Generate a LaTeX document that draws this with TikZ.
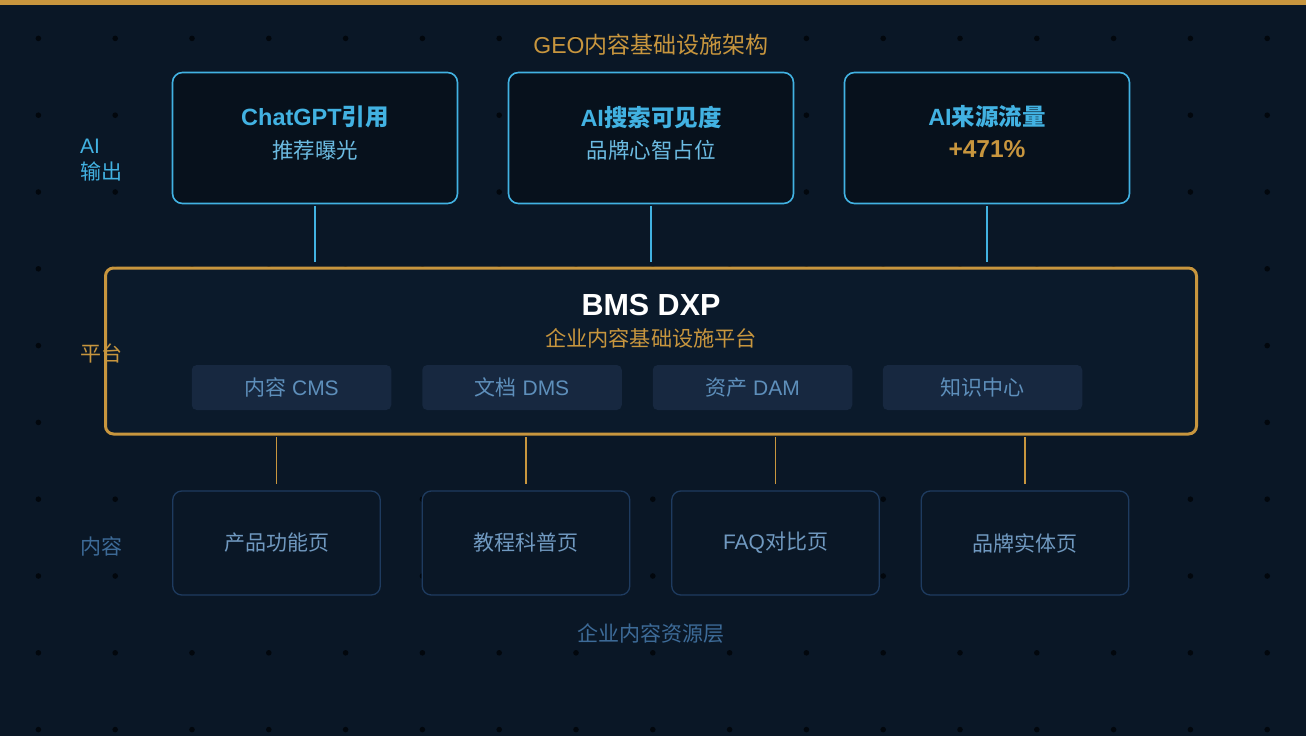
\documentclass[tikz,border=0pt]{standalone}
\usepackage{fontspec}
\setmainfont{Liberation Sans}
\newfontfamily\cjk{Noto Sans CJK SC}
\newcommand\zh[1]{{\cjk #1}}
\newcommand\fs[1]{\fontsize{#1}{#1}\selectfont}
\definecolor{bg}{HTML}{0A1726}
\definecolor{gold}{HTML}{C8963E}
\definecolor{sky}{HTML}{42B2E2}
\definecolor{skylt}{HTML}{6CBBE2}
\definecolor{topfill}{HTML}{07111C}
\definecolor{platfill}{HTML}{0B1A2B}
\definecolor{subfill}{HTML}{172840}
\definecolor{subtxt}{HTML}{5E8FBB}
\definecolor{botline}{HTML}{1E3B5F}
\definecolor{bottxt}{HTML}{7099C0}
\definecolor{dimblue}{HTML}{3D6B98}
\definecolor{dotc}{HTML}{02070D}
\begin{document}
\begin{tikzpicture}[x=1pt,y=-1pt,
  topbox/.style={draw=sky,line width=1.6pt,fill=topfill,rounded corners=10pt,minimum width=285pt,minimum height=131pt,inner sep=0pt,align=center},
  platbox/.style={draw=gold,line width=3pt,fill=platfill,rounded corners=8pt,minimum width=1091pt,minimum height=166pt,inner sep=0pt},
  subbox/.style={fill=subfill,rounded corners=5pt,minimum width=199.5pt,minimum height=45pt,inner sep=0pt,text=subtxt,font=\fs{21}},
  botbox/.style={draw=botline,line width=1.3pt,fill=bg,rounded corners=9pt,minimum width=207.5pt,minimum height=104pt,inner sep=0pt,text=bottxt,font=\fs{21}},
  bluelink/.style={draw=sky,line width=1.5pt},
  goldlink/.style={draw=gold,line width=1.5pt},
  lbl/.style={anchor=west,inner sep=0pt,font=\fontsize{21}{26}\selectfont,align=left},
  head/.style={font=\fs{23.5}\bfseries,inner sep=0pt}
]
\useasboundingbox (0,0) rectangle (1306,736);
\fill[bg] (0,0) rectangle (1306,736);
\fill[gold] (0,0) rectangle (1306,5);
% dot grid
\foreach \i in {0,...,16}{
  \foreach \j in {0,...,9}{
    \fill[dotc] ({38.4+76.8*\i},{38.4+76.8*\j}) circle (2.8pt);
  }
}
% title
\node[text=gold,font=\fs{23}] (title) at (651,45) {GEO\zh{内容基础设施架构}};
% top boxes
\node[topbox] (t1) at (315,138) {};
\node[topbox] (t2) at (651,138) {};
\node[topbox] (t3) at (987,138) {};
\node[head,text=sky] (t1a) at (315,117) {ChatGPT\zh{\bfseries 引用}};
\node[text=skylt,font=\fs{21.5},inner sep=0pt] (t1b) at (315,150) {\zh{推荐曝光}};
\node[head,text=sky] (t2a) at (651,117) {AI\zh{\bfseries 搜索可见度}};
\node[text=skylt,font=\fs{21.5},inner sep=0pt] (t2b) at (651,150) {\zh{品牌心智占位}};
\node[head,text=sky] (t3a) at (987,117) {AI\zh{\bfseries 来源流量}};
\node[text=gold,font=\fs{24.5}\bfseries,inner sep=0pt] (t3b) at (987,149) {+471\%};
% platform
\node[platbox] (plat) at (651,351) {};
\node[text=white,font=\fs{30.5}\bfseries,inner sep=0pt] (bms) at (651,305) {BMS DXP};
\node[text=gold,font=\fs{21.2},inner sep=0pt] (bmssub) at (651,338) {\zh{企业内容基础设施平台}};
\node[subbox] (s1) at (291.5,387.5) {\zh{内容} CMS};
\node[subbox] (s2) at (522,387.5) {\zh{文档} DMS};
\node[subbox] (s3) at (752.5,387.5) {\zh{资产} DAM};
\node[subbox] (s4) at (982.5,387.5) {\zh{知识中心}};
% bottom boxes
\node[botbox] (b1) at (276.5,543) {\zh{产品功能页}};
\node[botbox] (b2) at (526,543) {\zh{教程科普页}};
\node[botbox] (b3) at (775.5,543) {FAQ\zh{对比页}};
\node[botbox] (b4) at (1025,543) {\zh{品牌实体页}};
\node[text=dimblue,font=\fs{21},inner sep=0pt] (botcap) at (651,634) {\zh{企业内容资源层}};
% connectors
\foreach \t in {t1,t2,t3}{
  \draw[bluelink,shorten <=1.5pt,shorten >=5pt] (\t.south) -- (\t.south |- plat.north);
}
\foreach \b in {b1,b2,b3,b4}{
  \draw[goldlink,shorten <=1.5pt,shorten >=6pt] (\b.north |- plat.south) -- (\b.north);
}
% side labels
\node[lbl,text=sky] (lai) at (80,160) {AI\\\zh{输出}};
\node[lbl,text=gold] (lplat) at (80,353) {\zh{平台}};
\node[lbl,text=dimblue] (lcont) at (80,546) {\zh{内容}};
\end{tikzpicture}
\end{document}
